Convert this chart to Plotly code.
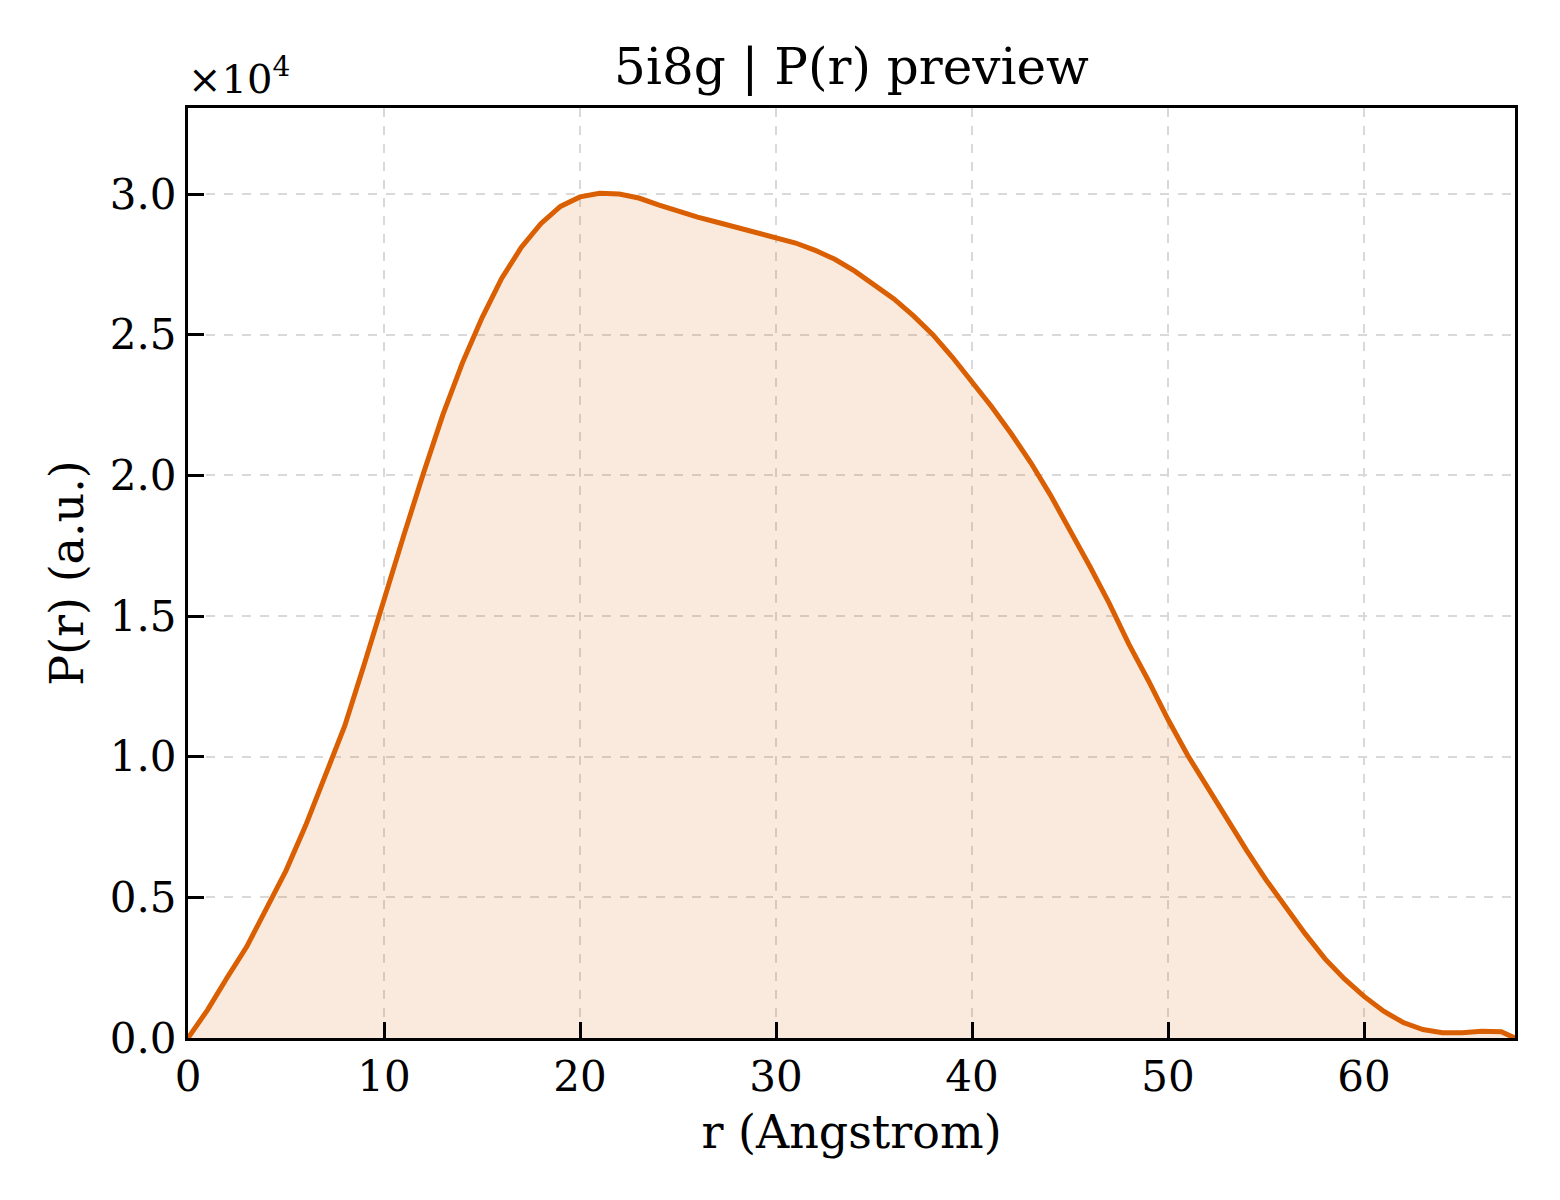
import plotly.graph_objects as go

# r (Angstrom)
r_vals = [0, 1, 2, 3, 4, 5, 6, 7, 8, 9, 10, 11, 12, 13, 14, 15, 16, 17, 18, 19,
          20, 21, 22, 23, 24, 25, 26, 27, 28, 29, 30, 31, 32, 33, 34, 35, 36, 37, 38, 39,
          40, 41, 42, 43, 44, 45, 46, 47, 48, 49, 50, 51, 52, 53, 54, 55, 56, 57, 58, 59,
          60, 61, 62, 63, 64, 65, 66, 67, 67.7]
# P(r) (a.u.)
p_vals = [0, 1000, 2150, 3250, 4600, 5950, 7550, 9300, 11100, 13300,
          15650, 17850, 20050, 22150, 24000, 25600, 27000, 28100, 28950, 29560,
          29900, 30030, 30000, 29860, 29620, 29380, 29180, 29000, 28820, 28640,
          28460, 28260, 28000, 27680, 27270, 26800, 26280, 25680, 25000, 24200,
          23320, 22440, 21480, 20450, 19300, 18050, 16780, 15450, 14000, 12700,
          11320, 10050, 8900, 7780, 6680, 5620, 4640, 3700, 2820, 2100,
          1480, 950, 550, 300, 190, 190, 240, 220, 0]

y_tickvals = [0, 5000, 10000, 15000, 20000, 25000, 30000]
y_ticktext = ["0.0", "0.5", "1.0", "1.5", "2.0", "2.5", "3.0"]
x_tickvals = [0, 10, 20, 30, 40, 50, 60]
x_ticktext = ["0", "10", "20", "30", "40", "50", "60"]

FONT = "DejaVu Serif, Liberation Serif, serif"
LINE = "#D95F02"

fig = go.Figure()
fig.add_trace(go.Scatter(
    x=r_vals, y=p_vals, mode="lines",
    line=dict(color=LINE, width=5),
    fill="tozeroy", fillcolor="rgba(217,95,2,0.13)",
    showlegend=False,
))

axis_common = dict(
    showline=True, linecolor="black", linewidth=3, mirror=True,
    ticks="inside", ticklen=16, tickwidth=3, tickcolor="black",
    showgrid=True, gridcolor="#d9d9d9", griddash="dash", gridwidth=1.5,
    zeroline=False,
    tickfont=dict(family=FONT, size=42, color="black"),
)

fig.update_layout(
    width=1560, height=1200,
    margin=dict(l=180, r=53, t=100, b=170),
    paper_bgcolor="white", plot_bgcolor="white",
    font=dict(family=FONT, color="black"),
    title=dict(text="5i8g | P(r) preview", x=0.5, xref="paper", xanchor="center",
               y=1, yref="paper", yanchor="bottom", pad=dict(b=24),
               font=dict(family=FONT, size=50, color="black")),
    xaxis=dict(range=[0, 67.7], tickvals=x_tickvals, ticktext=x_ticktext,
               title=dict(text="r (Angstrom)", font=dict(family=FONT, size=46), standoff=16),
               **axis_common),
    yaxis=dict(range=[0, 33060], tickvals=y_tickvals, ticktext=y_ticktext,
               title=dict(text="P(r) (a.u.)", font=dict(family=FONT, size=46), standoff=12),
               **axis_common),
)

fig.add_annotation(
    text="×10<sup>4</sup>", xref="paper", yref="paper", x=0, y=1,
    xanchor="left", yanchor="bottom", yshift=4, xshift=-2, showarrow=False,
    font=dict(family=FONT, size=40, color="black"),
)

fig.write_html("out.html")
